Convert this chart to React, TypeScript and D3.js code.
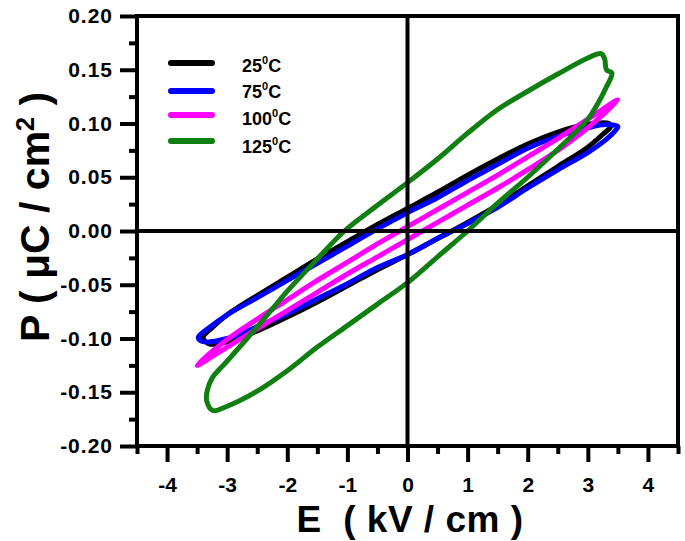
import React, { useEffect, useRef } from "react";
import * as d3 from "d3";

// loop data: [E (kV/cm), P (uC/cm2)], each loop closed
const loop25 = [
  [3.35, 0.1], [3.1, 0.1], [2.8, 0.097], [2.5, 0.092], [2.0, 0.081], [1.5, 0.067],
  [1.0, 0.052], [0.5, 0.036], [0, 0.021], [-0.5, 0.006], [-1.0, -0.01], [-1.5, -0.026],
  [-2.0, -0.043], [-2.5, -0.06], [-3.0, -0.078], [-3.25, -0.09], [-3.4, -0.099],
  [-3.3, -0.105], [-3.0, -0.103], [-2.5, -0.093], [-2.0, -0.08], [-1.5, -0.066],
  [-1.0, -0.051], [-0.5, -0.036], [0, -0.022], [0.5, -0.007], [1.0, 0.008], [1.5, 0.024],
  [2.0, 0.042], [2.5, 0.06], [3.0, 0.078], [3.25, 0.09], [3.38, 0.097],
];
const loop75 = [
  [3.5, 0.097], [3.3, 0.099], [3.0, 0.096], [2.5, 0.088], [2.0, 0.077], [1.5, 0.062],
  [1.0, 0.047], [0.5, 0.031], [0, 0.017], [-0.5, 0.002], [-1.0, -0.014], [-1.5, -0.03],
  [-2.0, -0.046], [-2.5, -0.062], [-3.0, -0.078], [-3.3, -0.09], [-3.48, -0.099],
  [-3.4, -0.103], [-3.0, -0.1], [-2.5, -0.089], [-2.0, -0.077], [-1.5, -0.063],
  [-1.0, -0.049], [-0.5, -0.034], [0, -0.022], [0.5, -0.007], [1.0, 0.007], [1.5, 0.022],
  [2.0, 0.04], [2.5, 0.057], [3.0, 0.073], [3.3, 0.085], [3.45, 0.093],
];
const loop100 = [
  [3.5, 0.122], [3.0, 0.104], [2.5, 0.086], [2.0, 0.069], [1.5, 0.052], [1.0, 0.036],
  [0.5, 0.02], [0, 0.004], [-0.5, -0.012], [-1.0, -0.029], [-1.5, -0.046], [-2.0, -0.064],
  [-2.5, -0.082], [-3.0, -0.101], [-3.5, -0.125],
  [-3.0, -0.108], [-2.5, -0.091], [-2.0, -0.074], [-1.5, -0.057], [-1.0, -0.04],
  [-0.5, -0.024], [0, -0.008], [0.5, 0.008], [1.0, 0.024], [1.5, 0.04], [2.0, 0.057],
  [2.5, 0.075], [3.0, 0.096],
];
const loop125 = [
  [-3.24, -0.167], [-3.34, -0.158], [-3.33, -0.148], [-3.24, -0.136], [-3.0, -0.121],
  [-2.67, -0.1], [-2.3, -0.076], [-2.0, -0.056], [-1.5, -0.026], [-1.05, 0.0],
  [-0.5, 0.024], [0, 0.045], [0.5, 0.067], [1.0, 0.091], [1.5, 0.113], [2.0, 0.13],
  [2.5, 0.146], [3.0, 0.161], [3.22, 0.165], [3.28, 0.16], [3.31, 0.15], [3.4, 0.147],
  [3.3, 0.133], [3.15, 0.117], [3.0, 0.104], [2.5, 0.076], [2.0, 0.05], [1.5, 0.026],
  [1.0, 0.0], [0.5, -0.024], [0, -0.048], [-0.5, -0.068], [-1.0, -0.088], [-1.5, -0.108],
  [-2.0, -0.13], [-2.5, -0.149], [-3.0, -0.163],
];

const seriesNames = ["25", "75", "100", "125"];
const seriesColors = ["#000000", "#0000ff", "#ff00ff", "#0f7f0f"];
const seriesLoops = [loop25, loop75, loop100, loop125];

const xTicks = [-4, -3, -2, -1, 0, 1, 2, 3, 4];
const xMinor = [-4.5, -3.5, -2.5, -1.5, -0.5, 0.5, 1.5, 2.5, 3.5, 4.5];
const yTicks = [-0.2, -0.15, -0.1, -0.05, 0, 0.05, 0.1, 0.15, 0.2];
const yMinor = [-0.175, -0.125, -0.075, -0.025, 0.025, 0.075, 0.125, 0.175];

const FONT = "'Liberation Sans', Arial, sans-serif";

export default function App() {
  const ref = useRef(null);

  useEffect(() => {
    const svg = d3.select(ref.current);
    svg.selectAll("*").remove();

    const left = 137, right = 678, top = 16, bottom = 446;
    const x = d3.scaleLinear().domain([-4.5, 4.5]).range([left, right]);
    const y = d3.scaleLinear().domain([-0.2, 0.2]).range([bottom, top]);

    // loops
    const line = d3
      .line()
      .x((d) => x(d[0]))
      .y((d) => y(d[1]))
      .curve(d3.curveCatmullRomClosed.alpha(0.5));

    const g = svg.append("g");
    seriesLoops.forEach((loop, i) => {
      g.append("path")
        .attr("d", line(loop))
        .attr("fill", "none")
        .attr("stroke", seriesColors[i])
        .attr("stroke-width", 5)
        .attr("stroke-linejoin", "round");
    });

    // zero lines
    svg.append("line")
      .attr("x1", x(0)).attr("x2", x(0)).attr("y1", top).attr("y2", bottom)
      .attr("stroke", "#000").attr("stroke-width", 4);
    svg.append("line")
      .attr("x1", left).attr("x2", right).attr("y1", y(0)).attr("y2", y(0))
      .attr("stroke", "#000").attr("stroke-width", 4);

    // frame
    svg.append("rect")
      .attr("x", left).attr("y", top)
      .attr("width", right - left).attr("height", bottom - top)
      .attr("fill", "none").attr("stroke", "#000").attr("stroke-width", 4);

    // x axis
    const xa = svg.append("g").attr("transform", `translate(0,${bottom})`);
    xa.append("g")
      .call(d3.axisBottom(x).tickValues(xMinor).tickSize(8))
      .selectAll("text").remove();
    xa.append("g")
      .call(d3.axisBottom(x).tickValues(xTicks).tickSize(16).tickPadding(15)
        .tickFormat((d) => String(d)));

    // y axis
    const ya = svg.append("g").attr("transform", `translate(${left},0)`);
    ya.append("g")
      .call(d3.axisLeft(y).tickValues(yMinor).tickSize(8))
      .selectAll("text").remove();
    ya.append("g")
      .call(d3.axisLeft(y).tickValues(yTicks).tickSize(17).tickPadding(7)
        .tickFormat((d) => d.toFixed(2)));

    svg.selectAll(".domain").remove();
    svg.selectAll(".tick line").attr("stroke", "#000").attr("stroke-width", 4);
    svg.selectAll(".tick text")
      .attr("font-family", FONT)
      .attr("font-weight", "bold")
      .attr("font-size", 21)
      .attr("fill", "#000");
    ya.selectAll(".tick text").attr("letter-spacing", 1);

    // axis titles
    svg.append("text")
      .attr("x", 410).attr("y", 532)
      .attr("text-anchor", "middle")
      .attr("font-family", FONT).attr("font-weight", "bold").attr("font-size", 37)
      .attr("letter-spacing", 0.5)
      .style("white-space", "pre")
      .text("E  ( kV / cm )");

    const yt = svg.append("text")
      .attr("transform", "translate(49,217) rotate(-90)")
      .attr("text-anchor", "middle")
      .attr("font-family", FONT).attr("font-weight", "bold").attr("font-size", 41)
      .style("white-space", "pre");
    yt.append("tspan").text("P ( \u03bcC / cm");
    yt.append("tspan").attr("font-size", 25).attr("dy", -15).text("2");
    yt.append("tspan").attr("dy", 15).text(" )");

    // legend
    const lineY = [63, 91, 115, 141];
    const textY = [72, 98, 125, 153];
    const lg = svg.append("g");
    seriesNames.forEach((name, i) => {
      lg.append("line")
        .attr("x1", 171).attr("x2", 212)
        .attr("y1", lineY[i]).attr("y2", lineY[i])
        .attr("stroke", seriesColors[i]).attr("stroke-width", 6)
        .attr("stroke-linecap", "round");
      const t = lg.append("text")
        .attr("x", 242).attr("y", textY[i])
        .attr("font-family", FONT).attr("font-weight", "bold").attr("font-size", 18);
      t.append("tspan").text(name);
      t.append("tspan").attr("font-size", 11).attr("dy", -8).text("0");
      t.append("tspan").attr("dy", 8).text("C");
    });
  }, []);

  return (
    <svg
      ref={ref}
      width={685}
      height={541}
      style={{ position: "absolute", left: 0, top: 0, background: "#fff" }}
    />
  );
}
